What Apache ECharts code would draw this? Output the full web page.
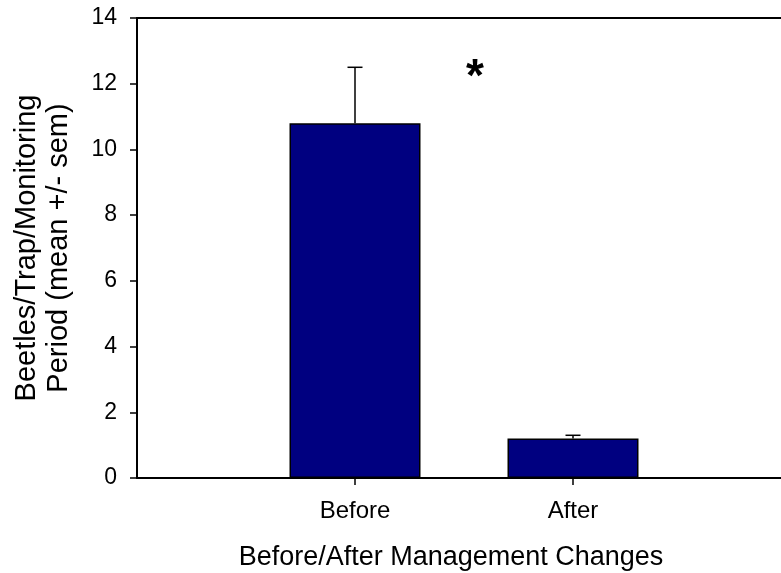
<!DOCTYPE html>
<html>
<head>
<meta charset="utf-8">
<script src="https://cdn.jsdelivr.net/npm/echarts@6/dist/echarts.min.js"></script>
<style>
  html, body { margin: 0; padding: 0; background: #fff; }
  #chart { width: 781px; height: 573px; }
</style>
</head>
<body>
<div id="chart"></div>
<script>
// Beetle captures per trap per monitoring period, before vs after management changes
const categories = ['Before', 'After'];
const means = [10.8, 1.2];
const sems = [1.7, 0.1];
const yTicks = [0, 2, 4, 6, 8, 10, 12, 14];
// significance marker: sits between the two groups, fraction of the way from first to second
const sigLabel = '*';
const sigPos = 0.55;
const sigValue = 12.15;

const FONT = "'Liberation Sans', Arial, sans-serif";

// category slots: an empty slot on each side of the two groups
const axisData = [''].concat(categories, ['']);
const barData = axisData.map((c) => {
  const i = categories.indexOf(c);
  return i >= 0 ? means[i] : null;
});
const errData = categories.map((c, i) => [axisData.indexOf(c), means[i], sems[i]]);

const chart = echarts.init(document.getElementById('chart'), null, { renderer: 'canvas' });

chart.setOption({
  backgroundColor: '#fff',
  animation: false,
  grid: { left: 137, right: -10, top: 18, bottom: 95, outerBoundsMode: 'none', containLabel: false },
  xAxis: [{
    type: 'category',
    data: axisData,
    boundaryGap: false,
    axisLine: { show: true, lineStyle: { color: '#000', width: 2 } },
    axisTick: {
      show: true, length: 7, lineStyle: { color: '#000', width: 1.5 },
      interval: (idx, val) => val !== ''
    },
    axisLabel: {
      interval: 0, margin: 21, color: '#000', fontFamily: FONT, fontSize: 24
    },
    splitLine: { show: false },
    name: 'Before/After Management Changes',
    nameLocation: 'middle',
    nameGap: 66,
    nameTextStyle: { color: '#000', fontFamily: FONT, fontSize: 27, padding: [0, 26, 0, 0] }
  }, {
    type: 'category',
    data: axisData,
    boundaryGap: false,
    position: 'top',
    axisLine: { show: true, lineStyle: { color: '#000', width: 2 } },
    axisTick: { show: false },
    axisLabel: { show: false },
    splitLine: { show: false }
  }],
  yAxis: {
    type: 'value',
    min: yTicks[0],
    max: yTicks[yTicks.length - 1],
    interval: yTicks[1] - yTicks[0],
    axisLine: { show: true, lineStyle: { color: '#000', width: 2 } },
    axisTick: { show: true, length: 7, lineStyle: { color: '#000', width: 1.5 } },
    axisLabel: { margin: 20, color: '#000', fontFamily: FONT, fontSize: 23 },
    splitLine: { show: false },
    name: 'Beetles/Trap/Monitoring\nPeriod (mean +/- sem)',
    nameLocation: 'middle',
    nameGap: 62,
    nameTextStyle: { color: '#000', fontFamily: FONT, fontSize: 29, lineHeight: 32 }
  },
  series: [{
    type: 'bar',
    data: barData,
    barWidth: 131,
    itemStyle: { color: '#000080', borderColor: '#000', borderWidth: 1.5 },
    z: 2
  }, {
    type: 'custom',
    data: errData,
    z: 3,
    renderItem: (params, api) => {
      const x = api.value(0);
      const m = api.value(1);
      const s = api.value(2);
      const p0 = api.coord([x, m]);
      const p1 = api.coord([x, m + s]);
      const style = { stroke: '#000', lineWidth: 1.5 };
      return {
        type: 'group',
        children: [
          { type: 'line', shape: { x1: p0[0], y1: p0[1], x2: p1[0], y2: p1[1] }, style },
          { type: 'line', shape: { x1: p1[0] - 7.5, y1: p1[1], x2: p1[0] + 7.5, y2: p1[1] }, style }
        ]
      };
    }
  }]
});

// place the significance asterisk between the two groups
const pa = chart.convertToPixel({ gridIndex: 0 }, [axisData.indexOf(categories[0]), sigValue]);
const pb = chart.convertToPixel({ gridIndex: 0 }, [axisData.indexOf(categories[1]), sigValue]);
chart.setOption({
  graphic: [{
    type: 'text',
    x: pa[0] + (pb[0] - pa[0]) * sigPos,
    y: pa[1],
    style: {
      text: sigLabel, fill: '#000', font: 'bold 46px ' + FONT,
      align: 'center', verticalAlign: 'middle'
    }
  }]
});
</script>
</body>
</html>
